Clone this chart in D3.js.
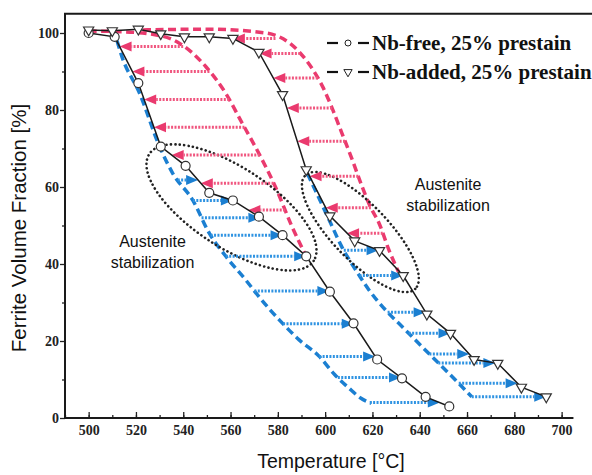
<!DOCTYPE html>
<html>
<head>
<meta charset="utf-8">
<script src="https://cdn.jsdelivr.net/npm/d3@7"></script>
<style>
  body { margin: 0; background: #fff; }
  svg { display: block; }
</style>
</head>
<body>
<div id="wrap"></div>
<script>
// 数据：Nb-free（圆点）
const tempFree = [500, 511, 521, 530.5, 541, 551, 561, 572, 582, 592, 602, 612, 622, 632.5, 642.5, 652.5];
const fracFree = [100, 99, 87, 70.5, 65.5, 58.5, 56.5, 52.3, 47.5, 42, 32.8, 24.6, 15.2, 10.3, 5.5, 3];

// 数据：Nb-added（三角）
const tempAdded = [500, 510, 521, 530.5, 540.5, 551, 561, 572, 582, 592, 602, 612.5, 623, 633, 643, 653, 663, 673, 683, 693.5];
const fracAdded = [100.8, 100.6, 101, 99.8, 99, 99, 98.6, 95, 84, 64.5, 52.5, 46, 43.5, 37, 27, 22, 15.2, 14.2, 8, 5.5];

// 红色虚线（左、右）
const red1T = [500, 515, 531, 538.5, 549.5, 558, 565, 572, 579, 586, 592];
const red1V = [100.5, 100.3, 99.2, 97.3, 91.3, 84.3, 76.5, 68.7, 60, 49.7, 42];
const red2T = [523, 550, 575, 589, 594.9, 599, 602.6, 606, 611.5, 615.7, 619, 622.8, 627, 631];
const red2V = [100.8, 101, 100, 95.1, 90.4, 86, 81, 75.7, 67, 60, 55, 50.6, 43.6, 38];

// 蓝色虚线（左、右）
const blue1T = [512, 514, 521.5, 530, 535.6, 544, 551, 558, 566.5, 572, 580.6, 589, 597.5, 604, 610, 615, 619.5];
const blue1V = [98, 94, 84.4, 70.5, 63.5, 56.6, 48, 42, 35.8, 31.5, 25.5, 20.3, 16, 11.3, 7.8, 5.2, 3.8];
const blue2T = [592.5, 599, 603, 607, 613, 618.6, 625.6, 632.6, 641, 649.5, 656.5, 662];
const blue2V = [63.5, 55, 49.7, 44.5, 38.4, 33.2, 28, 23.7, 18.5, 13.3, 9, 5.5];

// 箭头所在高度
const redLeftLevels = [96.5, 90, 82.7, 75.5, 68.3, 61, 54];
const redRightLevels = [98.6, 94.7, 88.3, 80.5, 71.9, 62.8, 54.6, 48];
const blueLeftLevels = [61.8, 56.5, 52, 47.5, 42, 33, 24.5, 16, 10.5, 4];
const blueRightLevels = [43.6, 37, 27.5, 22, 16.6, 14.3, 9, 5.5];

// 刻度
const xTickLabels = [500, 520, 540, 560, 580, 600, 620, 640, 660, 680, 700];
const yTickLabels = [0, 20, 40, 60, 80, 100];

const WIDTH = 592;
const HEIGHT = 475;
const RED = '#ea3a6e';
const RED_DOT = '#f0567f';
const BLUE = '#1b7fd1';
const BLUE_DOT = '#2f93e2';
const SERIF = '"Liberation Serif", "Times New Roman", serif';
const SANS = '"Liberation Sans", Arial, sans-serif';

const svg = d3.select('#wrap')
  .append('svg')
  .attr('width', WIDTH)
  .attr('height', HEIGHT)
  .style('background', '#FFFFFF');

const x = d3.scaleLinear().domain([490, 712]).range([65, 590]);
const y = d3.scaleLinear().domain([0, 105]).range([418, 13.75]);

const toPts = (ts, vs) => ts.map((t, i) => [t, vs[i]]);

// 反向插值：给定高度求温度
function tempAt(ts, vs, v) {
  for (let i = 0; i < ts.length - 1; i++) {
    const a = vs[i], b = vs[i + 1];
    if ((a >= v && b <= v) || (a <= v && b >= v)) {
      if (a === b) return ts[i];
      return ts[i] + (v - a) / (b - a) * (ts[i + 1] - ts[i]);
    }
  }
  return ts[ts.length - 1];
}

// 坐标轴
const minorX = d3.axisBottom(x).tickValues(d3.range(490, 706, 10)).tickSizeInner(-3).tickSizeOuter(0).tickFormat('');
const majorX = d3.axisBottom(x).tickValues(xTickLabels).tickSizeInner(-6).tickSizeOuter(0).tickPadding(7);
const minorY = d3.axisLeft(y).tickValues(d3.range(10, 100, 20)).tickSizeInner(3).tickSizeOuter(0).tickFormat('');
const majorY = d3.axisLeft(y).tickValues(yTickLabels).tickSizeInner(5).tickSizeOuter(0).tickPadding(1);

[minorX, majorX].forEach(ax => {
  svg.append('g').classed('axis', true).attr('transform', 'translate(0,' + y(0) + ')').call(ax)
    .call(g => g.select('.domain').remove());
});
[minorY, majorY].forEach(ax => {
  svg.append('g').classed('axis', true).attr('transform', 'translate(' + x(490) + ',0)').call(ax)
    .call(g => g.select('.domain').remove());
});
svg.selectAll('.axis')
  .attr('font-family', SERIF)
  .attr('font-size', 14)
  .attr('font-weight', 'bold');
svg.selectAll('.axis .tick line').attr('stroke', '#222').attr('stroke-width', 1.3);
svg.selectAll('.axis .tick text')
  .style('font-family', SERIF)
  .style('font-weight', 'bold')
  .style('font-size', '14px')
  .attr('fill', '#222');

// 边框
svg.append('path')
  .attr('d', 'M' + x(705) + ',' + y(0) + 'H' + x(490) + 'V' + y(105) + 'H' + WIDTH)
  .attr('fill', 'none').attr('stroke', '#1a1a1a').attr('stroke-width', 2);

// 轴标题
svg.append('text')
  .attr('x', 331).attr('y', 468)
  .attr('text-anchor', 'middle')
  .style('font-family', SANS)
  .style('font-size', '19.5px')
  .attr('fill', '#111')
  .text('Temperature [°C]');
svg.append('text')
  .attr('transform', 'translate(26,228) rotate(-90)')
  .attr('text-anchor', 'middle')
  .style('font-family', SANS)
  .style('font-size', '20.5px')
  .attr('fill', '#111')
  .text('Ferrite Volume Fraction [%]');

const plot = svg.append('g');

// 虚线曲线
const curveLine = d3.line().x(d => x(d[0])).y(d => y(d[1])).curve(d3.curveMonotoneX);
[[red1T, red1V, RED], [red2T, red2V, RED], [blue1T, blue1V, BLUE], [blue2T, blue2V, BLUE]].forEach(c => {
  plot.append('path')
    .attr('d', curveLine(toPts(c[0], c[1])))
    .attr('fill', 'none')
    .attr('stroke', c[2])
    .attr('stroke-width', 3.5)
    .attr('stroke-dasharray', '8 4.5');
});

// 椭圆（奥氏体稳定区）
const ellipses = [
  { t: 560.4, v: 54.7, rx: 98, ry: 40, angle: 33 },
  { t: 614.9, v: 48.3, rx: 79, ry: 28, angle: 46 }
];
plot.selectAll('.ell')
  .data(ellipses)
  .enter()
  .append('ellipse')
  .attr('transform', d => 'translate(' + x(d.t) + ',' + y(d.v) + ') rotate(' + d.angle + ')')
  .attr('rx', d => d.rx)
  .attr('ry', d => d.ry)
  .attr('fill', 'none')
  .attr('stroke', '#222')
  .attr('stroke-width', 2.6)
  .attr('stroke-linecap', 'round')
  .attr('stroke-dasharray', '0.1 4.3');

// 箭头
function drawArrows(levels, curveT, curveV, lineT, lineV, lineColor, headColor) {
  levels.forEach(v => {
    const x1 = x(tempAt(curveT, curveV, v));
    const x2 = x(tempAt(lineT, lineV, v));
    const yy = y(v);
    const dir = x2 > x1 ? 1 : -1;
    const L = 12, H = 5;
    plot.append('line')
      .attr('x1', x1).attr('x2', x2 - dir * L)
      .attr('y1', yy).attr('y2', yy)
      .attr('stroke', lineColor)
      .attr('stroke-width', 3)
      .attr('stroke-dasharray', '2 1.4');
    plot.append('path')
      .attr('d', 'M' + x2 + ',' + yy + 'L' + (x2 - dir * L) + ',' + (yy - H) + 'L' + (x2 - dir * L) + ',' + (yy + H) + 'Z')
      .attr('fill', headColor);
  });
}
drawArrows(redLeftLevels, red1T, red1V, tempFree, fracFree, RED_DOT, RED);
drawArrows(redRightLevels, red2T, red2V, tempAdded, fracAdded, RED_DOT, RED);
drawArrows(blueLeftLevels, blue1T, blue1V, tempFree, fracFree, BLUE_DOT, BLUE);
drawArrows(blueRightLevels, blue2T, blue2V, tempAdded, fracAdded, BLUE_DOT, BLUE);

// 实线与标记
const straight = d3.line().x(d => x(d[0])).y(d => y(d[1]));
[[tempFree, fracFree], [tempAdded, fracAdded]].forEach(s => {
  plot.append('path')
    .attr('d', straight(toPts(s[0], s[1])))
    .attr('fill', 'none')
    .attr('stroke', '#1a1a1a')
    .attr('stroke-width', 1.5);
});
plot.selectAll('.free')
  .data(toPts(tempFree, fracFree))
  .enter()
  .append('circle')
  .attr('cx', d => x(d[0]))
  .attr('cy', d => y(d[1]))
  .attr('r', 4.5)
  .attr('fill', '#fff')
  .attr('stroke', '#333')
  .attr('stroke-width', 1.2);
const tri = d3.symbol().type(d3.symbolTriangle).size(45);
plot.selectAll('.added')
  .data(toPts(tempAdded, fracAdded))
  .enter()
  .append('path')
  .attr('d', tri)
  .attr('transform', d => 'translate(' + x(d[0]) + ',' + y(d[1]) + ') rotate(180)')
  .attr('fill', '#fff')
  .attr('stroke', '#333')
  .attr('stroke-width', 1.2);

// 注释文字
const notes = [
  { t: 527, v: 44.4, lines: ['Austenite', 'stabilization'] },
  { t: 652, v: 59.2, lines: ['Austenite', 'stabilization'] }
];
notes.forEach(n => {
  const txt = svg.append('text')
    .attr('text-anchor', 'middle')
    .style('font-family', SANS)
    .style('font-size', '16px')
    .attr('fill', '#111');
  n.lines.forEach((s, i) => {
    txt.append('tspan').attr('x', x(n.t)).attr('y', y(n.v) + i * 21).text(s);
  });
});

// 图例
const legendItems = [
  { label: 'Nb-free, 25% prestain', shape: 'circle' },
  { label: 'Nb-added, 25% prestain', shape: 'tri' }
];
const legend = svg.append('g').attr('transform', 'translate(327,43)');
legendItems.forEach((d, i) => {
  const g = legend.append('g').attr('transform', 'translate(0,' + i * 29 + ')');
  g.append('line').attr('x1', 0).attr('x2', 11).attr('stroke', '#111').attr('stroke-width', 2.2);
  g.append('line').attr('x1', 31).attr('x2', 42).attr('stroke', '#111').attr('stroke-width', 2.2);
  if (d.shape === 'circle') {
    g.append('circle').attr('cx', 21).attr('r', 3).attr('fill', '#fff').attr('stroke', '#222').attr('stroke-width', 1);
  } else {
    g.append('path').attr('d', d3.symbol().type(d3.symbolTriangle).size(30))
      .attr('transform', 'translate(21,0) rotate(180)')
      .attr('fill', '#fff').attr('stroke', '#222').attr('stroke-width', 1);
  }
  g.append('text')
    .attr('x', 45).attr('y', 7)
    .style('font-family', SERIF)
    .style('font-weight', 'bold')
    .style('font-size', '21px')
    .attr('fill', '#111')
    .text(d.label);
});
</script>
</body>
</html>
